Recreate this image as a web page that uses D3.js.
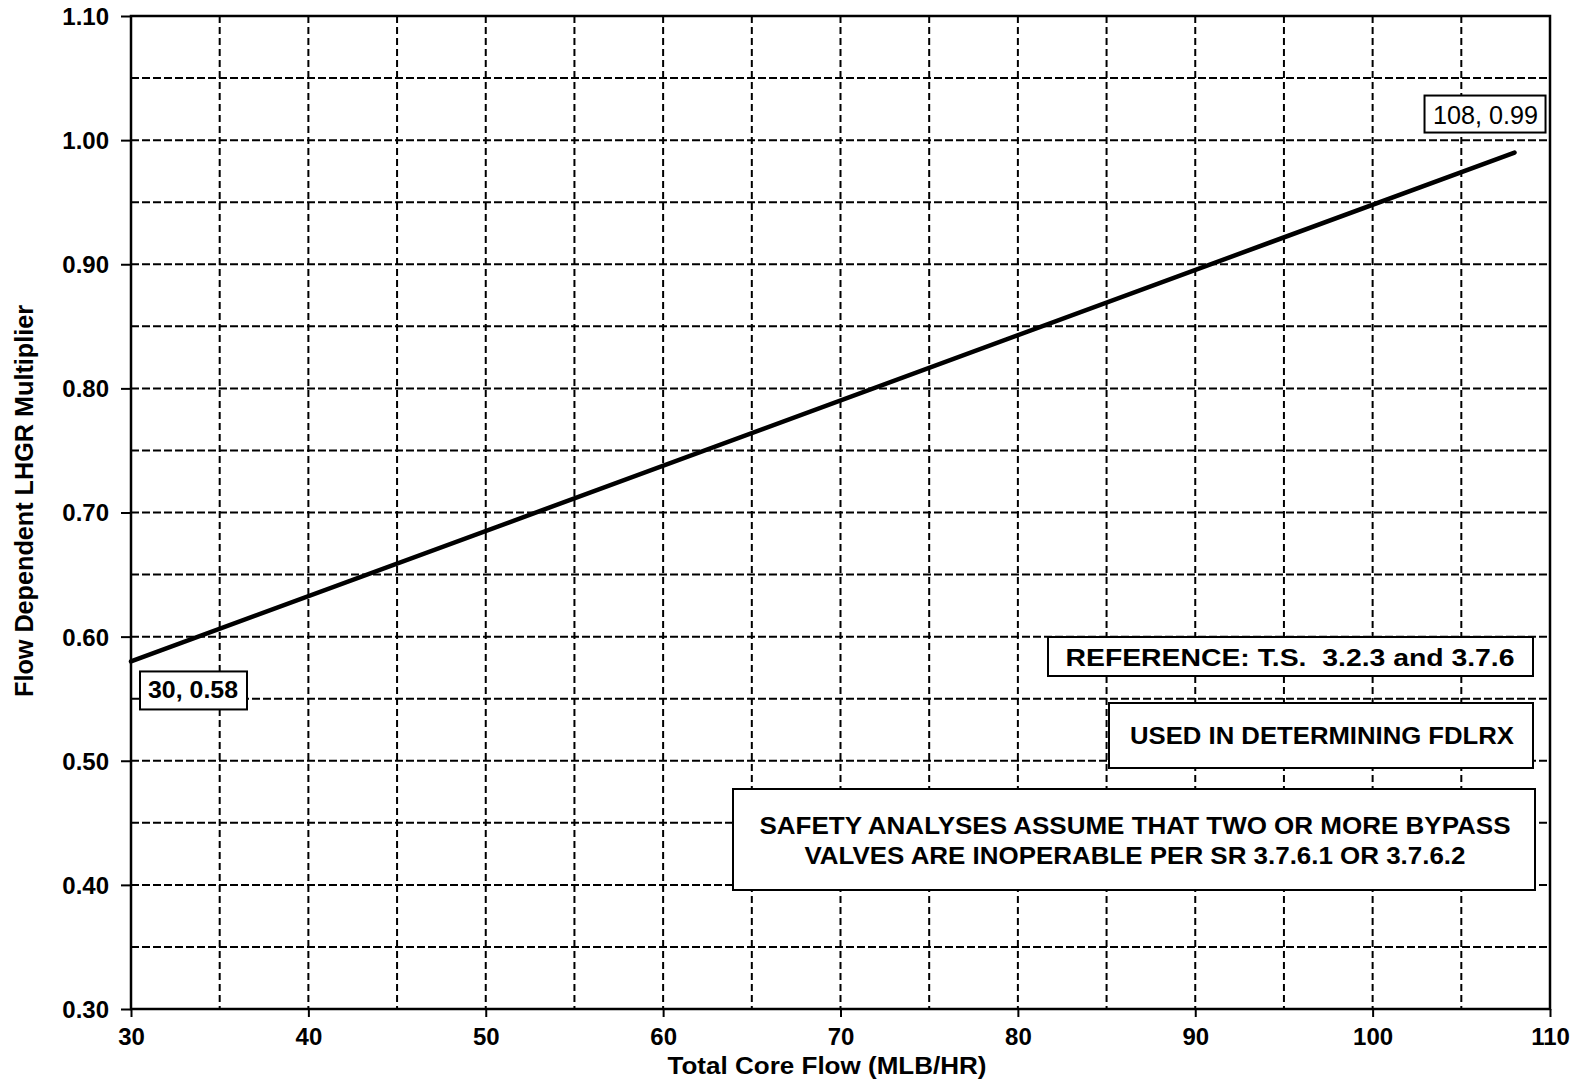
<!DOCTYPE html>
<html>
<head>
<meta charset="utf-8">
<script src="https://cdn.jsdelivr.net/npm/d3@7"></script>
<style>
  html, body { margin: 0; padding: 0; background: #fff; }
  svg { display: block; }
  text { font-family: "Liberation Sans", Arial, sans-serif; fill: #000; }
</style>
</head>
<body>
<svg id="chart" width="1584" height="1083"></svg>
<script>
// ---- data ----
const flow = [30, 108];
const multiplier = [0.58, 0.99];
const xTicks = [30, 40, 50, 60, 70, 80, 90, 100, 110];
const yTicks = [0.30, 0.40, 0.50, 0.60, 0.70, 0.80, 0.90, 1.00, 1.10];
const xGrid = [35, 40, 45, 50, 55, 60, 65, 70, 75, 80, 85, 90, 95, 100, 105];
const yGrid = [0.35, 0.40, 0.45, 0.50, 0.55, 0.60, 0.65, 0.70, 0.75, 0.80, 0.85, 0.90, 0.95, 1.00, 1.05];
const xTitle = "Total Core Flow (MLB/HR)";
const yTitle = "Flow Dependent LHGR Multiplier";
const startLabel = "30, 0.58";
const endLabel = "108, 0.99";
const refNote = "REFERENCE: T.S.  3.2.3 and 3.7.6";
const usedNote = "USED IN DETERMINING FDLRX";
const safetyNote = ["SAFETY ANALYSES ASSUME THAT TWO OR MORE BYPASS", "VALVES ARE INOPERABLE PER SR 3.7.6.1 OR 3.7.6.2"];

// ---- layout ----
const L = 131, R = 1550, T = 16, B = 1009;
const svg = d3.select("#chart");
const x = d3.scaleLinear().domain([30, 110]).range([L, R]);
const y = d3.scaleLinear().domain([0.30, 1.10]).range([B, T]);

// grid
const g = svg.append("g");
g.selectAll("line.vg").data(xGrid).join("line")
  .attr("x1", d => x(d)).attr("x2", d => x(d)).attr("y1", T).attr("y2", B)
  .attr("stroke", "#000").attr("stroke-width", 2).attr("stroke-dasharray", "7,4");
g.selectAll("line.hg").data(yGrid).join("line")
  .attr("y1", d => y(d)).attr("y2", d => y(d)).attr("x1", L).attr("x2", R)
  .attr("stroke", "#000").attr("stroke-width", 2).attr("stroke-dasharray", "8,3");

// axes
const xAxis = d3.axisBottom(x).tickValues(xTicks).tickFormat(d3.format("d")).tickSize(8).tickSizeOuter(0);
const yAxis = d3.axisLeft(y).tickValues(yTicks).tickFormat(d3.format(".2f")).tickSize(10).tickSizeOuter(0);
const gx = svg.append("g").attr("transform", `translate(0,${B})`).call(xAxis);
const gy = svg.append("g").attr("transform", `translate(${L},0)`).call(yAxis);
[gx, gy].forEach(a => {
  a.select(".domain").remove();
  a.selectAll(".tick line").attr("stroke", "#000").attr("stroke-width", 2);
  a.selectAll(".tick text").attr("font-family", "Liberation Sans, Arial, sans-serif")
    .attr("font-weight", "bold").attr("font-size", 24).attr("fill", "#000");
});
gx.selectAll(".tick text").attr("dy", null).attr("y", 36);
gy.selectAll(".tick text").attr("x", -22).attr("dy", "0.35em");

// frame
svg.append("rect").attr("x", L).attr("y", T).attr("width", R - L).attr("height", B - T)
  .attr("fill", "none").attr("stroke", "#000").attr("stroke-width", 2.5);

// axis titles
svg.append("text").attr("x", 827).attr("y", 1074).attr("text-anchor", "middle")
  .attr("font-weight", "bold").attr("font-size", 24)
  .attr("textLength", 319).attr("lengthAdjust", "spacingAndGlyphs").text(xTitle);
svg.append("text").attr("transform", "translate(33,501) rotate(-90)").attr("text-anchor", "middle")
  .attr("font-weight", "bold").attr("font-size", 25)
  .attr("textLength", 392).attr("lengthAdjust", "spacingAndGlyphs").text(yTitle);

// data line
const pts = flow.map((f, i) => [f, multiplier[i]]);
svg.append("path").datum(pts)
  .attr("d", d3.line().x(d => x(d[0])).y(d => y(d[1])))
  .attr("fill", "none").attr("stroke", "#000").attr("stroke-width", 4.5).attr("stroke-linecap", "round");

// boxed annotation helper
function box(x0, y0, w, h, lines, opts) {
  const grp = svg.append("g");
  grp.append("rect").attr("x", x0).attr("y", y0).attr("width", w).attr("height", h)
    .attr("fill", "#fff").attr("stroke", "#000").attr("stroke-width", 2);
  lines.forEach(l => {
    grp.append("text").attr("x", l.cx).attr("y", l.by).attr("text-anchor", "middle")
      .attr("font-weight", opts.weight).attr("font-size", opts.size)
      .style("white-space", "pre")
      .attr("textLength", l.len).attr("lengthAdjust", "spacingAndGlyphs").text(l.t);
  });
}

// point labels placed relative to their points
const p0 = [x(flow[0]), y(multiplier[0])];
const p1 = [x(flow[1]), y(multiplier[1])];
box(p0[0] + 9, p0[1] + 10, 107, 38, [{t: startLabel, cx: p0[0] + 62, by: p0[1] + 37, len: 90}], {weight: "bold", size: 24});
box(p1[0] - 90, p1[1] - 57, 121, 37, [{t: endLabel, cx: p1[0] - 29, by: p1[1] - 29, len: 105}], {weight: "normal", size: 25});

// notes
box(1048, 637, 485, 39, [{t: refNote, cx: 1290, by: 666, len: 449}], {weight: "bold", size: 24});
box(1109, 703, 424, 65, [{t: usedNote, cx: 1322, by: 744, len: 384}], {weight: "bold", size: 24});
box(733, 789, 802, 101, [
  {t: safetyNote[0], cx: 1135, by: 834, len: 751},
  {t: safetyNote[1], cx: 1135, by: 864, len: 661}
], {weight: "bold", size: 24});
</script>
</body>
</html>
